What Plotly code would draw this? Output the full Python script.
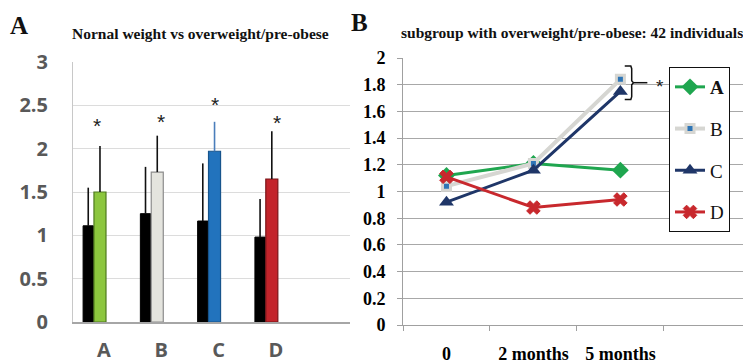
import plotly.graph_objects as go

# ---------------- data ----------------
bar_cats = ["A", "B", "C", "D"]
normal_vals = [1.11, 1.25, 1.165, 0.98]
normal_err_top = [1.55, 1.79, 1.83, 1.42]
over_vals = [1.50, 1.73, 1.97, 1.65]
over_err_top = [2.03, 2.15, 2.31, 2.20]
over_colors = ["#8cc63e", "#e4e4de", "#2273bd", "#c3242b"]
over_edges = ["#4f7a1e", "#8c8c8c", "#17548c", "#7a1418"]
over_err_colors = ["#111111", "#111111", "#4a7ebb", "#111111"]
star_y = [2.27, 2.31, 2.51, 2.30]
star_dx = [0.05, 0.17, 0.11, 0.19]

time_cats = ["0", "2 months", "5 months"]
line_names = ["<b>A</b>", "B", "C", "D"]
series_A = [1.12, 1.21, 1.16]
series_B = [1.04, 1.21, 1.84]
series_C = [0.92, 1.16, 1.75]
series_D = [1.11, 0.88, 0.94]

fig = go.Figure()

# ---------------- panel A: bars ----------------
fig.add_trace(go.Bar(
    x=bar_cats, y=normal_vals, width=0.18, offset=-0.19,
    marker=dict(color="#000000", line=dict(color="#000000", width=1)),
    error_y=dict(type="data", symmetric=False,
                 array=[t - v for t, v in zip(normal_err_top, normal_vals)],
                 arrayminus=[0] * 4, color="#111111", thickness=1.6, width=0),
    showlegend=False, xaxis="x", yaxis="y"))

for i, c in enumerate(bar_cats):
    fig.add_trace(go.Bar(
        x=[c], y=[over_vals[i]], width=0.21, offset=0.0,
        marker=dict(color=over_colors[i], line=dict(color=over_edges[i], width=1.2)),
        error_y=dict(type="data", symmetric=False,
                     array=[over_err_top[i] - over_vals[i]], arrayminus=[0],
                     color=over_err_colors[i], thickness=1.6, width=0),
        showlegend=False, xaxis="x", yaxis="y"))

annotations = []
for i in range(4):
    annotations.append(dict(x=i + star_dx[i], y=star_y[i], xref="x", yref="y",
                            text="*", showarrow=False, xanchor="center", yanchor="middle",
                            font=dict(family="Liberation Sans", size=21, color="#222222")))

# ---------------- panel B: lines ----------------
series = [series_A, series_B, series_C, series_D]
styles = [
    dict(line=dict(color="#1fa64f", width=3),
         marker=dict(symbol="diamond", size=13, color="#1fa64f")),
    dict(line=dict(color="#d6d6d2", width=4),
         marker=dict(symbol="square", size=8, color="#2e75b6",
                     line=dict(color="#d6d6d2", width=3))),
    dict(line=dict(color="#1f3668", width=3),
         marker=dict(symbol="triangle-up", size=13, color="#1f3668")),
    dict(line=dict(color="#c8282d", width=3),
         marker=dict(symbol="x", size=12, color="#c8282d",
                     line=dict(color="#c8282d", width=1))),
]
for k, (name, s, st) in enumerate(zip(line_names, series, styles)):
    fig.add_trace(go.Scatter(
        x=time_cats, y=s, mode="lines+markers", name=name,
        legendgroup=f"g{k}", xaxis="x2", yaxis="y2", **st))

# bracket joining B and C at 5 months
top = series_B[2] + 0.10
bot = series_C[2] - 0.06
mid = (top + bot) / 2
bx = 2.13
path = (f"M{bx-0.08},{top} L{bx-0.01},{top} L{bx},{top-0.02} L{bx},{mid+0.015} "
        f"L{bx+0.02},{mid} L{bx},{mid-0.015} L{bx},{bot+0.02} L{bx-0.01},{bot} L{bx-0.08},{bot}")
shapes = [
    dict(type="path", path=path, xref="x2", yref="y2",
         line=dict(color="#111111", width=1.5)),
    dict(type="line", x0=bx + 0.02, x1=bx + 0.18, y0=mid, y1=mid, xref="x2", yref="y2",
         line=dict(color="#111111", width=1.5)),
]
annotations.append(dict(x=2.45, y=mid - 0.03, xref="x2", yref="y2", text="*",
                        showarrow=False, xanchor="center", yanchor="middle",
                        font=dict(family="Liberation Sans", size=19, color="#222222")))

# titles and panel labels
def paper_text(px, py, text, size):
    return dict(x=px / 743, y=1 - py / 363, xref="paper", yref="paper", text=text,
                showarrow=False, xanchor="center", yanchor="middle",
                font=dict(family="Liberation Serif", size=size, color="#111111"))

annotations += [
    paper_text(19, 25, "<b>A</b>", 25),
    paper_text(359, 23, "<b>B</b>", 25),
    paper_text(200, 33, "<b>Nornal weight vs overweight/pre-obese</b>", 15.5),
    paper_text(572, 32, "<b>subgroup with overweight/pre-obese: 42 individuals</b>", 15.5),
]

fig.update_layout(
    width=743, height=363, margin=dict(l=0, r=0, t=0, b=0, autoexpand=False),
    paper_bgcolor="white", plot_bgcolor="white",
    barmode="overlay",
    shapes=shapes, annotations=annotations,
    xaxis=dict(domain=[73 / 743, 350 / 743], type="category", anchor="y",
               range=[-0.366, 4.47], showgrid=False,
               showline=True, linecolor="#a6a6a6", linewidth=1.5,
               ticks="", ticklabelshift=10, ticklabelstandoff=9,
               tickfont=dict(family="Open Sans", size=20, color="#595959", weight="bold")),
    yaxis=dict(domain=[1 - 322 / 363, 1 - 62 / 363], range=[0, 3], dtick=0.5, anchor="x",
               showgrid=True, gridcolor="#dcdcdc", gridwidth=1,
               showline=True, linecolor="#c8c8c8", linewidth=1, zeroline=False,
               ticks="", ticklabelstandoff=20,
               tickfont=dict(family="Open Sans", size=20, color="#595959", weight="bold")),
    xaxis2=dict(domain=[403 / 743, 1.0], type="category", range=[-0.5, 3.41], anchor="y2",
                showgrid=False, showline=True, linecolor="#a0a0a0", linewidth=1,
                ticks="outside", tickson="boundaries", ticklen=5, tickcolor="#a0a0a0",
                ticklabelstandoff=12,
                tickfont=dict(family="Liberation Serif", size=18, color="#000000", weight="bold")),
    yaxis2=dict(domain=[1 - 325 / 363, 1 - 58 / 363], range=[0, 2], dtick=0.2, anchor="x2",
                showgrid=True, gridcolor="#a8a8a8", gridwidth=1,
                showline=True, linecolor="#a0a0a0", linewidth=1, zeroline=False,
                ticks="outside", ticklen=5, tickcolor="#a0a0a0", ticklabelstandoff=8,
                tickfont=dict(family="Liberation Serif", size=18, color="#000000", weight="bold")),
    legend=dict(x=730 / 743, y=1 - 67 / 363, xanchor="right", yanchor="top",
                bgcolor="white", bordercolor="#111111", borderwidth=1,
                tracegroupgap=14, itemwidth=30,
                font=dict(family="Liberation Serif", size=19, color="#111111")),
)

fig.write_html("out.html", config={"displayModeBar": False},
               post_script="document.body.style.margin='0px';document.body.style.overflow='hidden';")
